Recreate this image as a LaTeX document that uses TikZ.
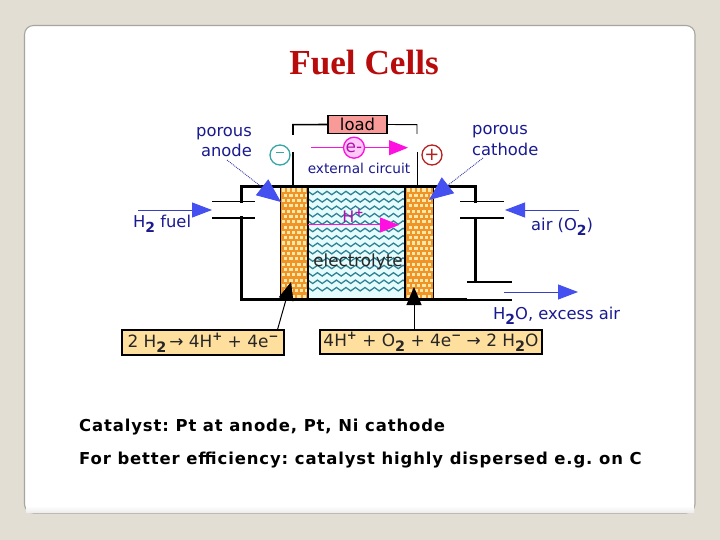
\documentclass[tikz,border=0pt]{standalone}
\usepackage{fontspec}
\setmainfont{DejaVu Sans}
\newfontfamily\titlefont{Liberation Serif}
\newfontfamily\bodyfont[LetterSpace=5.4]{DejaVu Sans}
\usetikzlibrary{arrows.meta,decorations.pathmorphing,calc}
\definecolor{slidebg}{HTML}{E3DED3}
\definecolor{slideedge}{HTML}{A6A69E}
\definecolor{titlered}{HTML}{B80C0C}
\definecolor{labelblue}{HTML}{1A1A90}
\definecolor{arrowblue}{HTML}{4550F0}
\definecolor{plate}{HTML}{EE9428}
\definecolor{platedot}{HTML}{FFE8A6}
\definecolor{elec}{HTML}{E6FCFC}
\definecolor{wave}{HTML}{2F8296}
\definecolor{hot}{HTML}{FF10E0}
\definecolor{hottext}{HTML}{B010B0}
\definecolor{loadfill}{HTML}{F79A98}
\definecolor{eqfill}{HTML}{FFDF9E}
\definecolor{minusc}{HTML}{35A5A5}
\definecolor{plusc}{HTML}{B82020}
\newcommand{\sbs}[1]{\raisebox{-0.28em}{\scalebox{0.85}{\textbf{#1}}}}
\newcommand{\sps}[1]{\raisebox{0.42em}{\scalebox{0.7}{\textbf{#1}}}}
\frenchspacing
\tikzset{
  x=1bp,y=-1bp,
  lbl/.style={font=\fontsize{16.4}{19}\selectfont,text=labelblue,inner sep=0pt},
  small lbl/.style={font=\fontsize{13.7}{16}\selectfont,text=labelblue,inner sep=0pt},
  eqbox/.style={draw=black,line width=1.1bp,fill=eqfill,inner sep=0pt,font=\fontsize{17}{19}\selectfont,text=black!85},
  plate box/.style={draw=black,line width=1bp,fill=plate,inner sep=0pt,minimum height=112bp,minimum width=28bp},
  elec box/.style={draw=black,line width=1.2bp,fill=elec,inner sep=0pt,minimum height=112bp,minimum width=97bp},
  wall/.style={line width=3bp,black},
  thinwall/.style={line width=1.6bp,black},
  feed/.style={line width=0.9bp,arrowblue!80!black,-{Triangle[length=20bp,width=15bp,color=arrowblue]}},
  feed2/.style={line width=0.9bp,densely dotted,arrowblue!70!black,-{Triangle[length=24bp,width=20bp,color=arrowblue]}},
  flow/.style={line width=1bp,hot,-{Triangle[length=19bp,width=15bp]}},
  react/.style={line width=1bp,black,-{Triangle[length=18bp,width=15bp]}},
  signc/.style={circle,line width=1.3bp,minimum size=20bp,inner sep=0pt,fill=white},
  body text/.style={font=\bodyfont\bfseries\fontsize{16.5}{19}\selectfont,text=black,inner sep=0pt,anchor=west}
}
\begin{document}
\begin{tikzpicture}
\useasboundingbox (0,0) rectangle (720,540);
\fill[slidebg] (0,0) rectangle (720,540);
\draw[slideedge,line width=1.1bp,fill=white,rounded corners=9bp] (24.5,25.5) rectangle (695,513);
\fill[top color=white,bottom color=black!7] (26,506) rectangle (694,512.4);
\node[font=\titlefont\bfseries\fontsize{35.3}{38}\selectfont,text=titlered,inner sep=0pt] (title) at (364,62.5) {Fuel Cells};

% plates and electrolyte
\node[plate box] (anode) at (294,243) {};
\node[plate box] (cathode) at (419,243) {};
\node[elec box] (electro) at (356.5,243) {};
\foreach \px in {280,405}{
  \foreach \r in {0,...,20}{
    \pgfmathsetmacro{\yy}{188.5+5.3*\r}
    \pgfmathsetmacro{\off}{mod(\r,2)*2.6}
    \foreach \c in {0,...,4}{
      \pgfmathsetmacro{\xx}{\px+1.5+\off+5.3*\c}
      \fill[platedot] (\xx,\yy) rectangle ++(3.3,3.1);
    }
  }
}
\begin{scope}
\clip (309,188) rectangle (404,298);
\foreach \wy in {193,200.4,...,296}{
  \draw[wave,line width=1.3bp,decorate,decoration={snake,segment length=9.5bp,amplitude=1.7bp}] (305,\wy) -- (410,\wy);
}
\end{scope}
\draw[black,line width=1.2bp] (308,187) -- (308,299) (405,187) -- (405,299);
\draw[black,line width=0.8bp] (280,187) -- (280,299) (433,187) -- (433,299);

% cell walls
\coordinate (tl) at (241.5,187);
\coordinate (tr) at (475.5,187);
\coordinate (bl) at (241.5,299);
\coordinate (brk) at (465,299);
\coordinate (br) at (477,299.7);
\coordinate (bre) at (512,299.7);
\coordinate (lcap1) at (241.5,201.7);
\coordinate (lcap2) at (241.5,218);
\coordinate (rcap1) at (475.5,201.7);
\coordinate (rcap2) at (475.5,218);
\coordinate (rlow) at (475.5,282);
\draw[wall,line cap=rect] (lcap1) -- (tl) -- (tr) -- (rcap1);
\draw[wall,line cap=rect] (lcap2) -- (bl) -- (brk);
\draw[thinwall] (brk |- br) -- (bre);
\draw[wall] (rcap2) -- (rlow);
\draw[thinwall] (212,201.7) -- (255,201.7);
\draw[thinwall] (212,218) -- (255,218);
\draw[thinwall] (460,201.7) -- (504,201.7);
\draw[thinwall] (460,218) -- (504,218);
\draw[thinwall] (467,282) -- (512,282);

% external circuit
\node[draw=black,line width=1.5bp,fill=loadfill,minimum width=59bp,minimum height=18bp,inner sep=0pt,font=\fontsize{16.5}{18}\selectfont,text=black] (load) at (357.5,124.5) {load};
\coordinate (wl) at (293,124.7);
\coordinate (wr) at (417,124.7);
\coordinate (wl1) at (293,135);
\coordinate (wl2) at (293,152);
\coordinate (wl3) at (293,187);
\coordinate (wr1) at (417,134);
\coordinate (wr2) at (417,152);
\coordinate (wr3) at (417,187);
\draw[black,line width=1.6bp] (wl1) -- (wl) -- (load.west);
\draw[black,line width=1.8bp] (wl2) -- (wl3);
\draw[black,line width=0.9bp] (load.east) -- (wr) -- (wr1);
\draw[black,line width=0.9bp] (wr2) -- (wr3);
\node[signc,draw=minusc,text=minusc,font=\fontsize{15}{15}\selectfont] (minus) at (280,155) {\rule[0.28em]{0.6em}{0.9pt}};
\node[signc,draw=plusc,text=plusc,font=\fontsize{18}{18}\selectfont] (plus) at (432,155) {+};
\coordinate (estart) at (311,147.7);
\coordinate (eend) at (408,147.7);
\draw[flow] (estart) -- (eend);
\node[circle,draw=hot,line width=1.3bp,fill=hot!22,minimum size=21bp,inner sep=0pt,font=\fontsize{17}{17}\selectfont,text=hottext] (eminus) at (354,147.7) {e-};
\node[small lbl] (extc) at (359,168) {external circuit};

% ion flow
\coordinate (hstart) at (308,225);
\coordinate (hend) at (399,225);
\draw[flow] (hstart) -- (hend);
\node[font=\fontsize{16}{16}\selectfont,text=hottext,inner sep=0pt] (hplus) at (353,216) {H\sps{+}};
\node[font=\fontsize{16.8}{18}\selectfont,text=black!85,inner sep=0pt] (elabel) at (358,262) {electrolyte};

% labels and their pointers
\node[lbl,align=right,anchor=north east,font=\fontsize{16.4}{20.5}\selectfont] (panode) at (252,127) {porous\\anode};
\node[lbl,align=left,anchor=north west,font=\fontsize{16.4}{20.5}\selectfont] (pcath) at (472,125.5) {porous\\cathode};
\coordinate (panodeend) at (227,160);
\coordinate (pcathend) at (483,158);
\coordinate (anodetip) at (281,202);
\coordinate (cathtip) at (429,200);
\draw[feed2] (panodeend) -- (anodetip);
\draw[feed2] (pcathend) -- (cathtip);

\coordinate (fuelstart) at (138,210);
\coordinate (fueltip) at (212,210);
\draw[feed] (fuelstart) -- (fueltip);
\node[lbl,anchor=west] (fuel) at (133,224) {H\sbs{2} fuel};
\coordinate (airstart) at (579,210);
\coordinate (airtip) at (505,210);
\draw[feed] (airstart) -- (airtip);
\node[lbl,anchor=west] (air) at (531,227) {air (O\sbs{2})};
\coordinate (exstart) at (504,292);
\coordinate (extip) at (578,292);
\draw[feed] (exstart) -- (extip);
\node[lbl,anchor=west] (excess) at (493,316) {H\sbs{2}O, excess air};

% reactions
\node[eqbox,minimum width=162bp,minimum height=25bp] (eqa) at (203,342.5) {2 H\sbs{2}$\,$→ 4H\sps{+} + 4e\sps{−}};
\node[eqbox,minimum width=222bp,minimum height=24bp] (eqc) at (431,342) {4H\sps{+} + O\sbs{2} + 4e\sps{−} → 2 H\sbs{2}O};
\coordinate (atip) at (291,282);
\coordinate (ctip) at (414,287);
\draw[react] ($(eqa.north east)+(-7,0)$) -- (atip);
\draw[react] (eqc.north -| ctip) -- (ctip);

% body text
\node[body text] (line1) at (79,427) {Catalyst: Pt at anode, Pt, Ni cathode};
\node[body text] (line2) at (79,460) {For better ef{}f{}iciency: catalyst highly dispersed e.g. on C};
\end{tikzpicture}
\end{document}
